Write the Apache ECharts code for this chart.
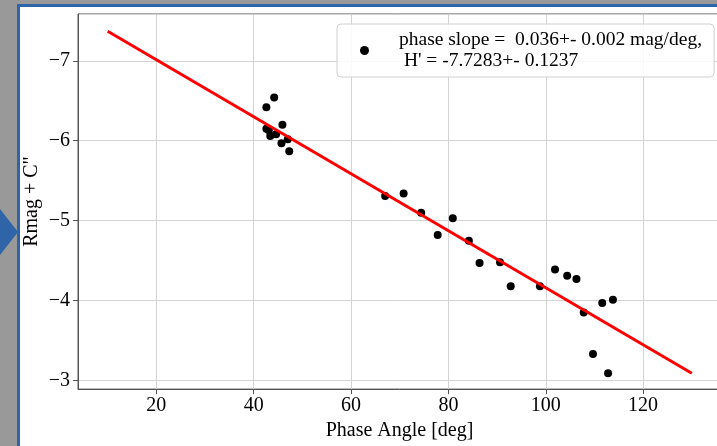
<!DOCTYPE html>
<html>
<head>
<meta charset="utf-8">
<script src="https://cdn.jsdelivr.net/npm/echarts@6/dist/echarts.min.js"></script>
<style>
  html, body { margin: 0; padding: 0; overflow: hidden; background: #999; }
  #chart { position: absolute; left: 0; top: 0; width: 740px; height: 446px; }
</style>
</head>
<body>
<div id="chart"></div>
<script>
// phase angle [deg] and reduced magnitude
const phaseAngle = [44.2, 42.6, 45.9, 42.6, 43.1, 43.4, 44.6, 47.0, 45.7, 47.3,
  67.0, 70.8, 74.4, 80.9, 77.8, 84.2, 86.4, 90.6, 92.8, 98.8,
  101.9, 104.4, 106.3, 107.8, 111.6, 113.8, 109.7, 112.8];
const rmag = [-6.54, -6.42, -6.20, -6.15, -6.13, -6.06, -6.08, -6.02, -5.97, -5.87,
  -5.31, -5.34, -5.10, -5.03, -4.82, -4.75, -4.47, -4.48, -4.18, -4.18,
  -4.39, -4.31, -4.27, -3.85, -3.97, -4.01, -3.33, -3.09];
// fitted line ends
const fitX = [10, 130];
const fitY = [-7.37, -3.09];

const legendText = "phase slope =  0.036+- 0.002 mag/deg,\n H' = -7.7283+- 0.1237";
const serif = "'Liberation Serif', 'DejaVu Serif', serif";

const chart = echarts.init(document.getElementById('chart'));

chart.setOption({
  backgroundColor: '#fff',
  animation: false,
  textStyle: { fontFamily: serif },
  grid: {
    left: 78, right: 19, top: 14, bottom: 53,
    show: true, borderColor: '#555', borderWidth: 1
  },
  legend: {
    data: [legendText],
    left: 337, top: 24,
    padding: [6, 12, 6, 23],
    backgroundColor: 'rgba(255,255,255,0.85)',
    borderColor: '#d0d0d0', borderWidth: 1, borderRadius: 4,
    icon: 'circle', itemWidth: 9, itemHeight: 9,
    textStyle: {
      fontFamily: serif, fontSize: 19.5, color: '#000',
      lineHeight: 20.5, padding: [0, 0, 0, 25]
    }
  },
  xAxis: {
    type: 'value',
    min: 3.9, max: 136,
    splitNumber: 6,
    name: 'Phase Angle [deg]',
    nameLocation: 'middle',
    nameGap: 31,
    nameTextStyle: { fontFamily: serif, fontSize: 20, color: '#000' },
    axisLine: { lineStyle: { color: '#555', width: 1 } },
    axisTick: { length: 5, lineStyle: { color: '#555' } },
    axisLabel: {
      fontFamily: serif, fontSize: 20, color: '#000', margin: 7,
      showMinLabel: false, showMaxLabel: false,
      formatter: v => (Math.abs(v % 20) < 1e-6 ? String(v) : '')
    },
    splitLine: { show: true, lineStyle: { color: '#d3d3d3', width: 1 } }
  },
  yAxis: {
    type: 'value',
    inverse: true,
    min: -7.586, max: -2.892,
    splitNumber: 5,
    name: 'Rmag + C"',
    nameLocation: 'middle',
    nameGap: 36,
    nameMoveOverlap: false,
    nameTextStyle: { fontFamily: serif, fontSize: 20, color: '#000' },
    axisLine: { lineStyle: { color: '#555', width: 1 } },
    axisTick: { length: 5, lineStyle: { color: '#555' } },
    axisLabel: {
      fontFamily: serif, fontSize: 20, color: '#000', margin: 8,
      showMinLabel: false, showMaxLabel: false,
      formatter: v => (Math.abs(v - Math.round(v)) < 1e-6 ? '\u2212' + Math.abs(Math.round(v)) : '')
    },
    splitLine: { show: true, lineStyle: { color: '#d3d3d3', width: 1 } }
  },
  series: [
    {
      name: legendText,
      type: 'scatter',
      symbolSize: 8,
      itemStyle: { color: '#000', opacity: 1 },
      data: phaseAngle.map((x, i) => [x, rmag[i]]),
      z: 3
    },
    {
      name: 'fit',
      type: 'line',
      symbol: 'none',
      lineStyle: { color: '#f00', width: 3 },
      data: fitX.map((x, i) => [x, fitY[i]]),
      z: 4
    }
  ],
  graphic: [
    { type: 'rect', shape: { x: 0, y: 0, width: 17, height: 446 }, style: { fill: '#999' }, z: 100 },
    { type: 'rect', shape: { x: 0, y: 0, width: 740, height: 4 }, style: { fill: '#999' }, z: 100 },
    { type: 'rect', shape: { x: 17, y: 4, width: 3, height: 442 }, style: { fill: '#2f65a8' }, z: 101 },
    { type: 'rect', shape: { x: 17, y: 4, width: 723, height: 3 }, style: { fill: '#2f65a8' }, z: 101 },
    { type: 'polygon', shape: { points: [[0, 209], [18, 232], [0, 255]] }, style: { fill: '#2f65a8' }, z: 102 }
  ]
});
</script>
</body>
</html>
